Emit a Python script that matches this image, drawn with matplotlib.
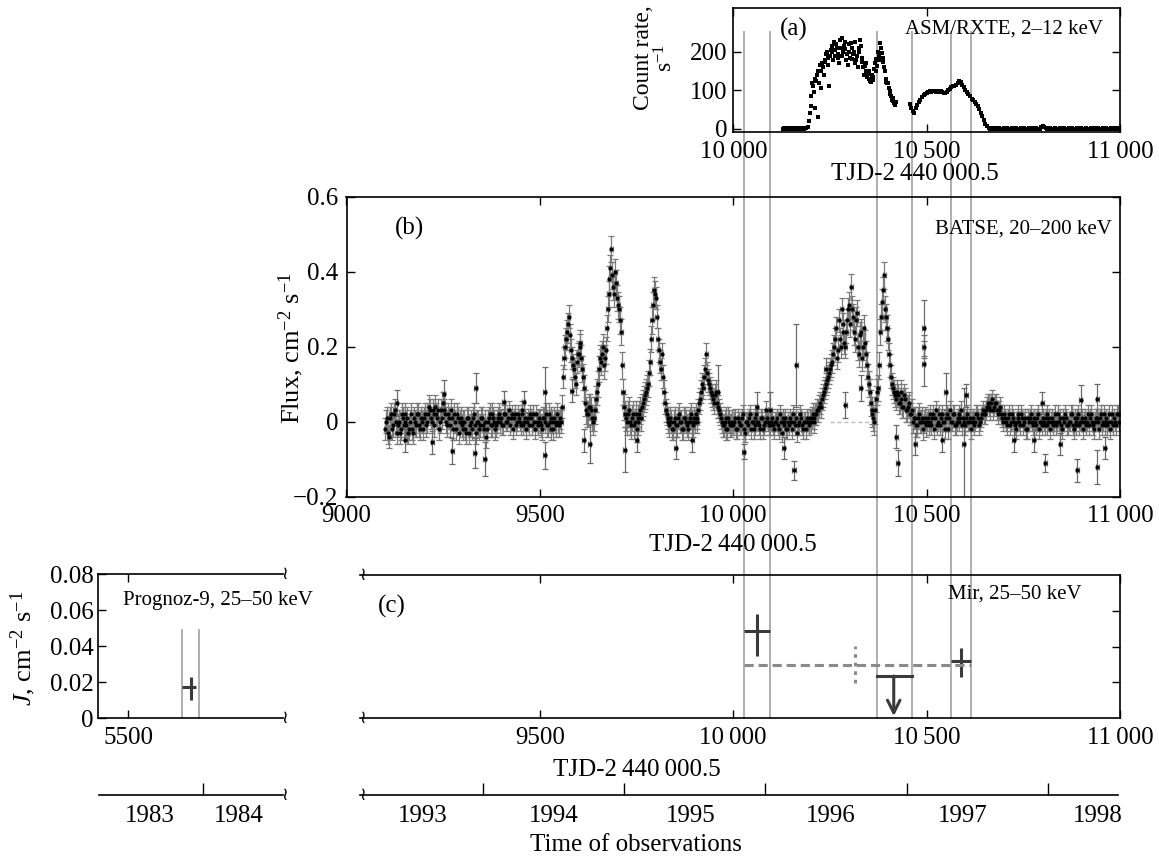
import numpy as np
import matplotlib
matplotlib.use("Agg")
import matplotlib.pyplot as plt
import matplotlib.transforms as mtransforms
from matplotlib.lines import Line2D

plt.rcParams['font.family'] = ['Liberation Serif', 'DejaVu Serif']
plt.rcParams['mathtext.fontset'] = 'custom'
plt.rcParams['mathtext.rm'] = 'Liberation Serif'
plt.rcParams['mathtext.it'] = 'Liberation Serif:italic'

# ---- data ----
# ASM/RXTE count rate, 4-day sampling from TJD 10128
asm_t = np.arange(10128, 11000, 4)
asm_rate = [0, 1, 0, 2, 0, 1, 0, 0, 2, 1, 0, 1, 0, 2, 0, 1, 3,
            20, 60, 120, 95, 130, 140, 30, 165,
            105, 160, 175, 195, 185, 110, 205, 200, 225, 190, 210, 185, 230, 236, 200, 207, 180, 165, 220, 224, 181, 200, 170, 190, 210,
            232, 175, 160, 164, 150, 143, 130, 122, 135, 156, 181, 164, 190, 224, 198, 173, 150, 122, 118, 97, 85, 80, 67, 70, np.nan,
            np.nan, np.nan, np.nan, np.nan, np.nan, np.nan, np.nan, 65, 55, 46, 40, 55, 62, 70, 76, 82, 88, 90, 93, 95, 97, 96, 99, 98, 96,
            97, 95, 97, 96, 93, 92, 95, 100, 104, 108, 112, 110, 115, 120, 125, 122, 115, 108, 100, 95, 90, 85, 78, 75, 70,
            65, 58, 50, 40, 32, 22, 12, 6, 2, 0, 1, 0, 0, 2, 0, 1, 0, 0, 1, 0, 2, 0, 0, 1, 0,
            0, 1, 0, 0, 2, 0, 1, 0, 0, 1, 0, 2, 0, 0, 1, 0, 0, 5, 8, 4, 1, 0, 0, 2, 0,
            0, 1, 0, 0, 2, 0, 0, 1, 0, 0, 2, 0, 1, 0, 0, 1, 0, 0, 2, 0, 0, 1, 0, 0, 1,
            0, 0, 2, 0, 1, 0, 0, 1, 0, 2, 0, 0, 1, 0, 0, 2, 0, 1]
# extra ASM points in the first outburst (offset sampling)
asm_t2 = np.arange(10198, 10420, 4)
asm_rate2 = [40, 85, 110, 55, 125, 150, 120,
             150, 170, 140, 180, 200, 165, 190, 215, 180, 205, 220, 195, 170, 210, 190, 215, 225, 195, 200, 185,
             210, 195, 225, 180, 160, 200, 215, 185, 140, 170, 135, 150, 125, 140, 128, 170, 150, 200, 180, 210,
             185, 160, 130, 120, 105, 90, 75, 72, 62]

# BATSE flux, 5-day sampling from TJD 9100 (rows of 100 days)
batse_t = np.arange(9100, 11000, 5)
batse_flux = [
    -0.02, 0.01, -0.04, 0.02, -0.01, 0.03, -0.03, 0.00, -0.02, 0.01, 0.02, -0.01, -0.03, 0.00, -0.02, 0.01, -0.01, 0.02, -0.02, 0.00,
    0.01, -0.01, 0.02, 0.03, 0.00, 0.02, 0.04, 0.01, -0.02, 0.03, 0.05, 0.02, -0.01, 0.01, 0.03, -0.02, 0.00, 0.02, -0.03, 0.01,
    -0.02, 0.00, -0.03, 0.01, -0.01, -0.02, 0.02, -0.03, 0.00, -0.01, 0.01, -0.02, -0.04, 0.00, 0.02, -0.01, 0.01, -0.02, 0.00, 0.02,
    0.01, -0.01, 0.02, 0.00, 0.03, 0.01, -0.02, 0.02, 0.00, 0.01, -0.01, 0.03, 0.00, -0.02, 0.01, 0.02, -0.01, 0.00, 0.02, -0.01,
    0.00, -0.02, 0.01, 0.02, -0.01, 0.00, 0.01, -0.02, 0.00, 0.02, -0.01, 0.00, 0.12, 0.20, 0.24, 0.28, 0.19, 0.15, 0.12, 0.16,
    0.18, 0.21, 0.14, 0.09, 0.03, 0.02, 0.04, 0.01, 0.01, 0.06, 0.10, 0.17, 0.18, 0.15, 0.19, 0.30, 0.38, 0.46, 0.36, 0.40,
    0.33, 0.30, 0.24, 0.08, 0.02, 0.00, 0.03, -0.01, 0.02, 0.00, -0.02, 0.01, 0.03, 0.04, 0.06, 0.08, 0.10, 0.16, 0.27, 0.35,
    0.33, 0.22, 0.16, 0.18, 0.08, 0.03, 0.01, -0.01, 0.00, -0.02, 0.01, -0.01, 0.02, 0.00, -0.02, 0.01, -0.01, 0.00, 0.02, -0.01,
    0.00, 0.01, 0.03, 0.06, 0.10, 0.12, 0.18, 0.11, 0.09, 0.07, 0.05, 0.08, 0.04, 0.02, 0.00, -0.01, 0.01, -0.02, 0.00, -0.01,
    -0.01, 0.01, -0.02, 0.00, -0.01, 0.02, -0.03, 0.00, 0.01, -0.02, 0.00, -0.01, 0.02, 0.00, -0.02, 0.01, -0.01, 0.03, 0.00, -0.01,
    0.01, -0.02, 0.00, -0.01, 0.02, -0.03, 0.00, 0.01, -0.02, -0.01, 0.00, 0.02, -0.01, -0.03, 0.00, 0.01, -0.02, 0.00, 0.01, -0.01,
    0.00, 0.02, 0.01, 0.02, 0.03, 0.05, 0.06, 0.08, 0.10, 0.12, 0.14, 0.16, 0.20, 0.25, 0.19, 0.22, 0.30, 0.24, 0.20, 0.27,
    0.31, 0.36, 0.28, 0.22, 0.29, 0.18, 0.24, 0.20, 0.21, 0.15, 0.10, 0.05, 0.02, 0.00, 0.06, 0.09, 0.24, 0.32, 0.39, 0.28,
    0.22, 0.15, 0.10, 0.08, 0.06, 0.07, 0.05, 0.08, 0.04, 0.06, 0.03, 0.05, 0.02, 0.00, 0.01, -0.01, 0.02, 0.00, -0.02, 0.01,
    0.00, -0.01, 0.02, 0.01, -0.02, 0.03, 0.00, -0.01, 0.02, 0.00, 0.01, -0.02, 0.03, 0.00, 0.02, -0.01, 0.01, 0.00, 0.03, 0.01,
    -0.01, 0.02, 0.00, -0.02, 0.01, 0.00, 0.02, -0.01, 0.01, 0.03, 0.02, 0.04, 0.05, 0.03, 0.06, 0.04, 0.05, 0.02, 0.04, 0.01,
    0.02, 0.00, 0.01, -0.01, 0.02, 0.00, -0.02, 0.01, 0.00, 0.02, -0.01, 0.01, -0.02, 0.00, 0.02, -0.01, 0.00, 0.01, -0.02, 0.00,
    0.01, -0.01, 0.02, 0.00, -0.02, 0.01, 0.00, -0.01, 0.02, 0.01, -0.02, 0.00, 0.01, -0.01, 0.00, 0.02, -0.02, 0.00, 0.01, -0.01,
    0.00, -0.02, 0.01, 0.00, -0.01, 0.02, -0.01, 0.00, 0.01, -0.02, 0.02, 0.00, -0.01, 0.01, 0.00, -0.02, 0.02, 0.01, -0.01, 0.02]
# interleaved BATSE points, offset by 2.5 days
batse_t2 = np.arange(9102.5, 11000, 5)
batse_flux2 = [
    0.00, -0.03, 0.01, -0.02, 0.02, 0.00, -0.01, -0.03, 0.02, -0.01, 0.00, 0.01, -0.02, 0.02, -0.03, 0.00, 0.02, -0.01, 0.01, -0.02,
    0.02, 0.00, 0.04, 0.01, 0.03, -0.01, 0.02, 0.03, 0.00, 0.01, 0.03, 0.00, 0.02, -0.01, 0.01, 0.02, -0.02, 0.01, 0.00, -0.01,
    0.00, -0.02, 0.01, -0.03, 0.00, 0.01, -0.01, 0.00, -0.02, 0.01, -0.01, 0.00, -0.02, 0.01, -0.01, 0.02, 0.00, -0.01, 0.01, 0.00,
    -0.01, 0.02, 0.00, 0.01, -0.01, 0.02, 0.01, -0.01, 0.02, 0.00, 0.02, -0.01, 0.01, 0.00, -0.01, 0.01, 0.02, -0.02, 0.00, 0.01,
    -0.01, 0.01, 0.00, -0.01, 0.02, -0.02, 0.00, 0.01, -0.01, 0.00, 0.01, 0.04, 0.17, 0.22, 0.26, 0.23, 0.17, 0.14, 0.10, 0.18,
    0.20, 0.17, 0.12, 0.05, 0.02, 0.04, 0.03, 0.00, 0.03, 0.08, 0.14, 0.16, 0.20, 0.17, 0.25, 0.34, 0.41, 0.39, 0.34, 0.37,
    0.31, 0.27, 0.15, 0.04, 0.01, 0.02, 0.00, 0.01, -0.01, 0.02, 0.00, 0.02, 0.01, 0.05, 0.07, 0.09, 0.13, 0.22, 0.31, 0.34,
    0.28, 0.19, 0.14, 0.12, 0.05, 0.02, 0.00, 0.01, -0.02, 0.00, -0.01, 0.01, 0.00, -0.02, 0.01, 0.00, -0.02, 0.01, 0.00, 0.01,
    0.02, 0.00, 0.05, 0.08, 0.09, 0.14, 0.13, 0.10, 0.08, 0.06, 0.07, 0.05, 0.03, 0.01, -0.01, 0.00, -0.02, 0.01, -0.01, 0.00,
    0.00, -0.02, 0.01, -0.01, 0.01, -0.02, 0.00, -0.01, 0.02, 0.00, -0.02, 0.01, 0.00, -0.01, 0.01, -0.02, 0.00, 0.01, -0.01, 0.00,
    -0.01, 0.00, 0.01, -0.02, 0.00, 0.01, -0.01, -0.02, 0.00, 0.01, -0.02, 0.00, 0.01, -0.01, 0.02, -0.01, 0.00, -0.02, 0.00, 0.01,
    0.01, 0.00, 0.02, 0.03, 0.04, 0.04, 0.07, 0.09, 0.11, 0.13, 0.15, 0.18, 0.22, 0.17, 0.27, 0.20, 0.26, 0.21, 0.24, 0.30,
    0.26, 0.30, 0.24, 0.27, 0.20, 0.23, 0.17, 0.25, 0.18, 0.12, 0.08, 0.03, 0.01, 0.03, 0.08, 0.15, 0.28, 0.35, 0.30, 0.25,
    0.18, 0.12, 0.09, 0.07, 0.08, 0.05, 0.06, 0.04, 0.07, 0.03, 0.04, 0.02, 0.03, 0.01, -0.01, 0.01, 0.00, 0.01, 0.00, -0.01,
    0.01, 0.00, -0.01, 0.02, 0.01, -0.01, 0.02, 0.01, 0.00, -0.02, 0.02, 0.01, 0.00, 0.02, -0.01, 0.00, 0.02, 0.01, -0.01, 0.00,
    0.01, 0.00, 0.01, 0.00, -0.01, 0.02, 0.01, 0.00, 0.02, 0.02, 0.03, 0.05, 0.04, 0.05, 0.03, 0.05, 0.03, 0.03, 0.02, 0.00,
    0.01, -0.01, 0.02, 0.00, 0.01, -0.01, 0.00, 0.02, -0.01, 0.01, 0.00, -0.02, 0.01, 0.01, 0.00, 0.01, -0.01, 0.02, 0.00, -0.01,
    0.00, 0.01, -0.01, 0.01, 0.00, -0.01, 0.02, 0.00, 0.00, -0.01, 0.01, 0.02, -0.01, 0.00, 0.02, -0.01, 0.01, -0.01, 0.02, 0.00,
    0.01, 0.00, -0.01, 0.02, 0.01, 0.00, -0.02, 0.01, 0.00, 0.01, -0.01, 0.02, 0.00, -0.01, 0.02, 0.00, -0.01, 0.00, 0.02, 0.00]
batse_err_block = [0.03, 0.03, 0.03, 0.025, 0.03, 0.035, 0.035, 0.03, 0.03, 0.025,
                   0.025, 0.03, 0.035, 0.03, 0.025, 0.025, 0.025, 0.025, 0.025]
# isolated BATSE points (TJD, flux, error)
out_t = [9130, 9152, 9222, 9251, 9274, 9334, 9331, 9357, 9406, 9458, 9512, 9512, 9582, 9613, 9629,
         9719, 9750, 9851, 9894, 9960, 10027, 10061, 10095, 10130, 10157, 10163, 10239, 10290, 10330,
         10422, 10425, 10471, 10493, 10493, 10493, 10540, 10549, 10596, 10603, 10725, 10777, 10799,
         10807, 10846, 10889, 10898, 10941, 10941, 10960]
out_f = [0.05, -0.05, -0.055, 0.075, -0.078, 0.09, -0.083, -0.10, 0.053, 0.053, 0.08, -0.09, 0.083, -0.05, -0.06,
         -0.075, -0.05, -0.07, -0.05, 0.08, -0.08, 0.04, 0.03, -0.07, -0.13, 0.15, 0.14, 0.045, 0.09,
         -0.04, -0.11, -0.06, 0.25, 0.20, 0.155, -0.05, 0.08, -0.06, 0.07, -0.05, -0.05, 0.05,
         -0.11, -0.06, -0.13, 0.058, -0.12, 0.06, -0.07]
out_e = [0.035, 0.03, 0.03, 0.035, 0.035, 0.04, 0.04, 0.045, 0.03, 0.03, 0.065, 0.035, 0.03, 0.03, 0.05,
         0.06, 0.03, 0.03, 0.03, 0.07, 0.02, 0.04, 0.05, 0.03, 0.025, 0.11, 0.03, 0.035, 0.035,
         0.03, 0.035, 0.03, 0.075, 0.03, 0.06, 0.03, 0.05, 0.15, 0.03, 0.03, 0.03, 0.03,
         0.025, 0.03, 0.03, 0.04, 0.045, 0.04, 0.03]

# observation windows (TJD)
mir_windows = [10029, 10095, 10372, 10461, 10564, 10615]
prognoz_windows = [5640, 5683]

# Mir points
mir_t = [10062, 10590]
mir_j = [0.049, 0.0318]
mir_tlo = [33, 26]
mir_thi = [33, 25]
mir_jlo = [0.014, 0.0089]
mir_jhi = [0.0095, 0.0072]
mir_ul_t = 10415
mir_ul_j = 0.0236
mir_mean = 0.030
mir_mean_t = 10314
mir_mean_err = 0.0105

prognoz_t = 5661
prognoz_j = 0.0172

# years
year_bounds = [9353, 9718, 10083, 10449, 10814]
year_label_pos = [9197, 9535, 9890, 10252, 10593, 10942]
year_labels = ['1993', '1994', '1995', '1996', '1997', '1998']
year_bounds_old = [5692]
year_label_pos_old = [5555, 5785]
year_labels_old = ['1983', '1984']

TJD = 'TJD-2\u2009440\u2009000.5'

# ---- figure ----
W, H = 1159, 857


def box(l, t, r, b):
    return [l / W, 1 - b / H, (r - l) / W, (b - t) / H]


def ftext(x, y, s, **kw):
    return fig.text(x / W, 1 - y / H, s, **kw)


fig = plt.figure(figsize=(W / 100, H / 100), dpi=100)
ax_a = fig.add_axes(box(733.3, 8.3, 1120, 131.7))
ax_b = fig.add_axes(box(346.5, 196.7, 1120, 496.7))
ax_c = fig.add_axes(box(360, 575, 1120, 718.3))
ax_p = fig.add_axes(box(97.7, 574.3, 283, 718.3))
ax_yr = fig.add_axes(box(360, 793.5, 1120, 795))
ax_yl = fig.add_axes(box(97.7, 793.5, 283, 795))

for ax in [ax_a, ax_b, ax_c, ax_p, ax_yr, ax_yl]:
    ax.patch.set_alpha(0)
    for s in ax.spines.values():
        s.set_linewidth(1.2)
    ax.tick_params(direction='in', length=6, width=1, labelsize=18, pad=6,
                   top=True, right=True)

# (a) ASM
ax_a.plot(asm_t, asm_rate, 's', ms=3.2, color='k', mew=0)
ax_a.plot(asm_t2, asm_rate2, 's', ms=3.2, color='k', mew=0)
ax_a.set_xlim(10000, 11000)
ax_a.set_ylim(-8, 314)
ax_a.set_xticks([10000, 10500, 11000], ['10\u2009000', '10\u2009500', '11\u2009000'])
ax_a.set_yticks([0, 100, 200], ['0', '100', '200'])
ax_a.tick_params(axis='y', pad=4)
ax_a.tick_params(axis='x', pad=7)
ax_a.text(0.12, 0.83, '(a)', transform=ax_a.transAxes, fontsize=18, va='center')
ax_a.text(0.955, 0.83, 'ASM/RXTE, 2\u201312 keV', transform=ax_a.transAxes,
          fontsize=15, ha='right', va='center')
ftext(655, 58, 'Count rate,\ns$^{-1}$', rotation=90, ha='center', va='center',
      fontsize=17, multialignment='center', linespacing=1.0)
ftext(915, 174, TJD, ha='center', va='center', fontsize=18)

# (b) BATSE
batse_err = np.repeat(batse_err_block, 20)
for tt, ff in [(batse_t, batse_flux), (batse_t2, batse_flux2)]:
    ax_b.errorbar(tt, ff, yerr=batse_err, xerr=4, fmt='o', ms=2.0,
                  mfc='k', mec='k', ecolor='#7a7a7a', elinewidth=0.9, capsize=2.5, capthick=0.9)
ax_b.errorbar(out_t, out_f, yerr=out_e, xerr=4, fmt='o', ms=2.0,
              mfc='k', mec='k', ecolor='#6a6a6a', elinewidth=0.9, capsize=2.5, capthick=0.9)
ax_b.plot([10250, 10372], [0, 0], ls=(0, (3, 2)), color='#bbbbbb', lw=1)
ax_b.set_xlim(9000, 11000)
ax_b.set_ylim(-0.2, 0.6)
ax_b.set_xticks([9000, 9500, 10000, 10500, 11000],
                ['9000', '9500', '10\u2009000', '10\u2009500', '11\u2009000'])
ax_b.set_yticks([-0.2, 0, 0.2, 0.4, 0.6], ['\u22120.2', '0', '0.2', '0.4', '0.6'])
ax_b.text(0.063, 0.893, '(b)', transform=ax_b.transAxes, fontsize=18, va='center')
ax_b.text(0.99, 0.893, 'BATSE, 20\u2013200 keV', transform=ax_b.transAxes,
          fontsize=15, ha='right', va='center')
ftext(291, 348, 'Flux, cm$^{-2}$ s$^{-1}$', rotation=90, ha='center', va='center', fontsize=19)
ftext(733, 545, TJD, ha='center', va='center', fontsize=18)

# (c) Mir
dark = '#3a3a3a'
ax_c.errorbar(mir_t, mir_j, xerr=[mir_tlo, mir_thi], yerr=[mir_jlo, mir_jhi],
              fmt='none', ecolor=dark, elinewidth=2.2, capsize=0)
ax_c.plot([mir_windows[0], mir_windows[-1]], [mir_mean, mir_mean],
          ls=(0, (3, 1.6)), color='#8a8a8a', lw=2.2)
ax_c.plot([mir_mean_t, mir_mean_t], [mir_mean - mir_mean_err, mir_mean + mir_mean_err],
          ls=(0, (1.2, 1.6)), color='#8a8a8a', lw=2.2)
ax_c.plot([mir_windows[2], mir_windows[3]], [mir_ul_j, mir_ul_j], color=dark, lw=2.2)
ax_c.annotate('', xy=(mir_ul_t, 0.0012), xytext=(mir_ul_t, mir_ul_j),
              arrowprops=dict(arrowstyle='->,head_length=0.9,head_width=0.45',
                              color=dark, lw=2.2, shrinkA=0, shrinkB=0))
ax_c.set_xlim(9035, 11000)
ax_c.set_ylim(0, 0.08)
ax_c.spines['left'].set_visible(False)
ax_c.tick_params(left=False, labelleft=False)
ax_c.set_xticks([9500, 10000, 10500, 11000], ['9500', '10\u2009000', '10\u2009500', '11\u2009000'])
ax_c.set_yticks([0.02, 0.04, 0.06])
ftext(378, 606, '(c)', fontsize=18, va='center', ha='left')
ftext(1082, 594, 'Mir, 25\u201350 keV', ha='right', va='center', fontsize=15)
ftext(637, 770, TJD, ha='center', va='center', fontsize=18)

# Prognoz-9
for x in prognoz_windows:
    ax_p.plot([x, x], [0, 0.049], color='#a8a8a8', lw=1.3, zorder=1)
ax_p.errorbar([prognoz_t], [prognoz_j], xerr=[[21], [14]], yerr=[[0.007], [0.006]],
              fmt='none', ecolor=dark, elinewidth=2.2, capsize=0, zorder=3)
ax_p.set_xlim(5421, 5900)
ax_p.set_ylim(0, 0.08)
ax_p.spines['right'].set_visible(False)
ax_p.tick_params(right=False)
ax_p.set_xticks([5500], ['5500'])
ax_p.set_yticks([0, 0.02, 0.04, 0.06, 0.08], ['0', '0.02', '0.04', '0.06', '0.08'])
ax_p.tick_params(axis='y', pad=3)
ftext(123, 601, 'Prognoz-9, 25\u201350 keV', ha='left', va='center', fontsize=15)
ftext(23, 648, '$J$, cm$^{-2}$ s$^{-1}$', rotation=90, ha='center', va='center', fontsize=19)

# year axes
for ax, lim, bnd, pos, lab in [(ax_yr, (9035, 11000), year_bounds, year_label_pos, year_labels),
                               (ax_yl, (5421, 5900), year_bounds_old, year_label_pos_old, year_labels_old)]:
    ax.set_xlim(*lim)
    ax.set_yticks([])
    for s in ['top', 'left', 'right']:
        ax.spines[s].set_visible(False)
    ax.set_xticks(bnd, [''] * len(bnd))
    ax.set_xticks(pos, lab, minor=True)
    ax.tick_params(axis='x', which='major', direction='in', length=9, width=1, top=False)
    ax.tick_params(axis='x', which='minor', length=0, labelsize=18, pad=7, top=False)
ax_yr.spines['bottom'].set_bounds(9035, 10995)
ax_yl.spines['bottom'].set_bounds(5425, 5900)
ftext(636, 845, 'Time of observations', ha='center', va='center', fontsize=18)

# break marks
for x, y in [(285, 574.3), (285, 718.3), (285, 794.5), (363, 575), (363, 718.3), (363, 794.5)]:
    ftext(x, y, '\u2240', ha='center', va='center', fontsize=13, family=['DejaVu Sans'])

# observation windows across the panels
tr = mtransforms.blended_transform_factory(ax_b.transData, fig.transFigure)
for x in mir_windows:
    fig.add_artist(Line2D([x, x], [1 - 32 / H, 1 - 718.3 / H], transform=tr,
                          color='#a8a8a8', lw=1.3, zorder=-1))

fig.savefig('out.png', dpi=100, facecolor='white')
